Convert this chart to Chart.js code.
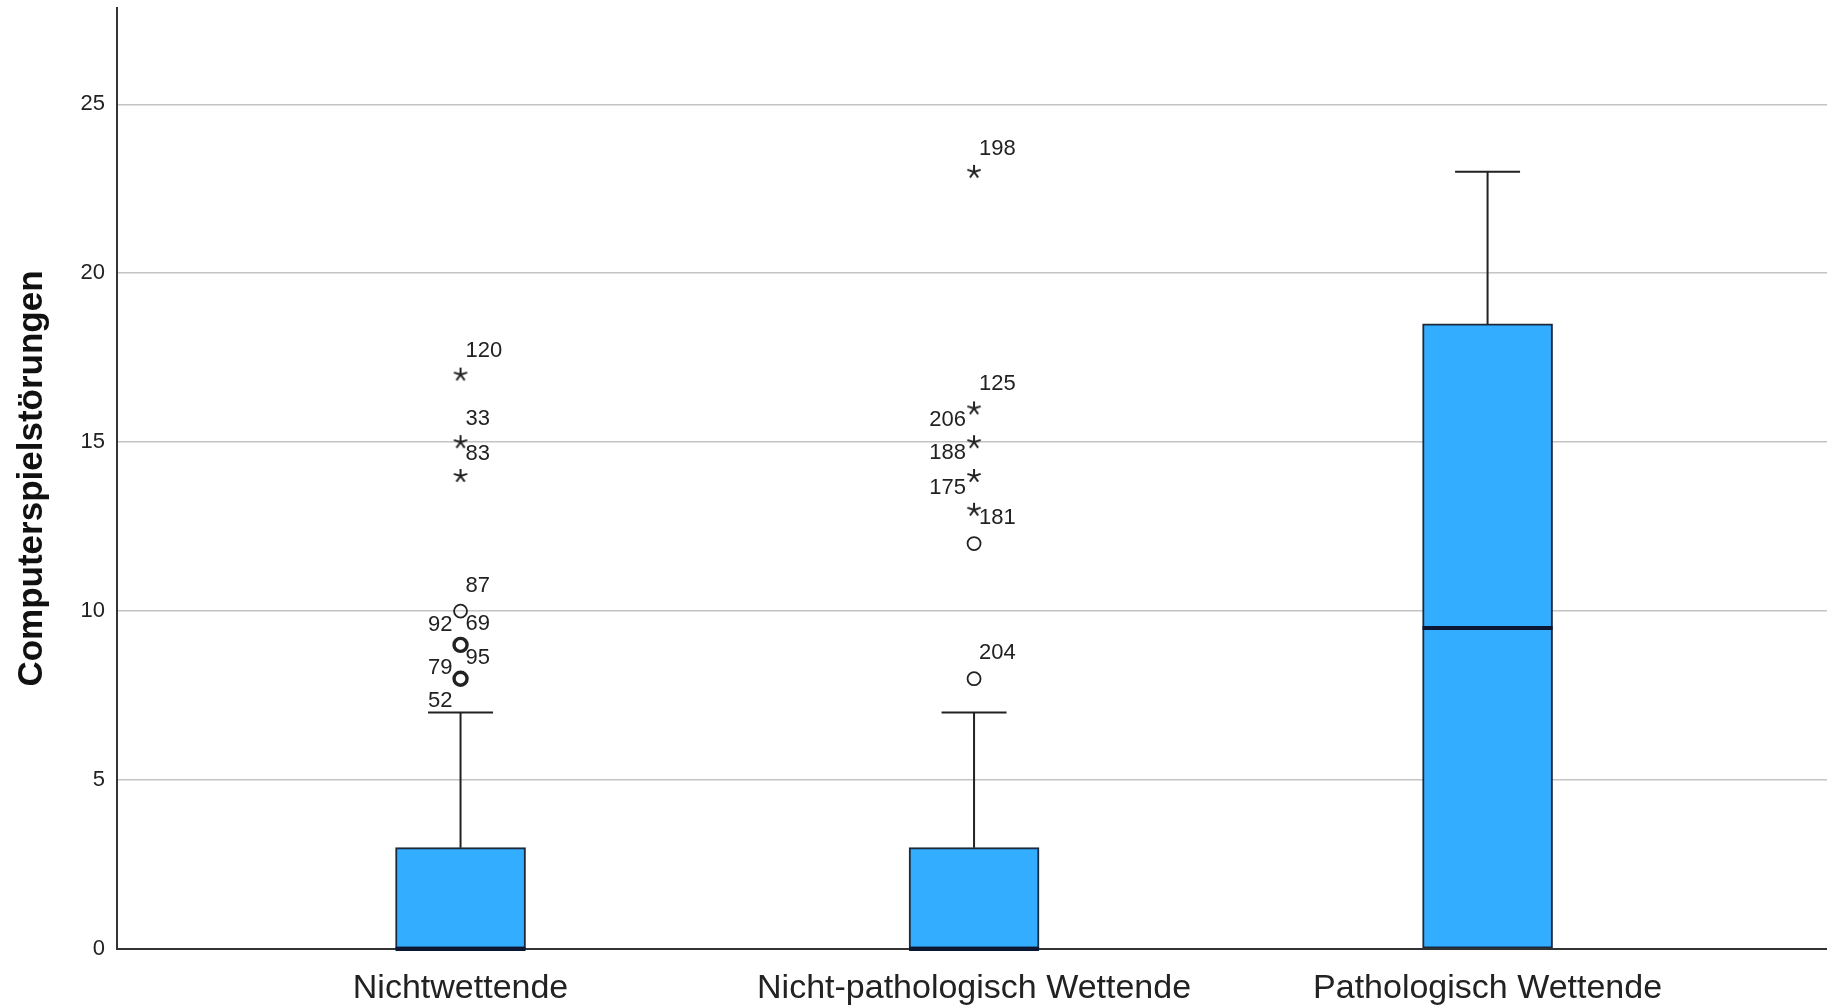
<!DOCTYPE html>
<html>
<head>
<meta charset="utf-8">
<script src="https://cdn.jsdelivr.net/npm/chart.js@4.4.1/dist/chart.umd.min.js"></script>
<style>
  html, body { margin: 0; padding: 0; background: #fff; }
  canvas { display: block; }
</style>
</head>
<body>
<canvas id="boxChart" width="1827" height="1005"></canvas>
<script>
const categories = ['Nichtwettende', 'Nicht-pathologisch Wettende', 'Pathologisch Wettende'];
const whiskerLow = [0, 0, 0];
const quartile1 = [0, 0, 0];
const medians = [0, 0, 9.5];
const quartile3 = [3, 3, 18.5];
const whiskerHigh = [7, 7, 23];
const yTicks = [0, 5, 10, 15, 20, 25];

// outliers as [category index, value]
const mildOutliers = [[0, 8], [0, 9], [0, 10], [1, 8], [1, 12]];
const extremeOutliers = [[0, 14], [0, 15], [0, 17], [1, 13], [1, 14], [1, 15], [1, 16], [1, 23]];

// case numbers as [category index, value, case id]
const caseLabels = [
  [0, 17, '120'], [0, 15, '33'], [0, 14, '83'], [0, 10, '87'],
  [0, 9, '92'], [0, 9, '69'], [0, 8, '95'], [0, 8, '79'], [0, 8, '52'],
  [1, 23, '198'], [1, 16, '125'], [1, 16, '206'], [1, 15, '188'],
  [1, 14, '175'], [1, 13, '181'], [1, 8, '204']
];

// where each case number sits beside its point: side and vertical pixel shift
const labelPlacement = [
  ['r', -24], ['r', -23], ['r', -22], ['r', -25],
  ['l', -20], ['r', -21], ['r', -21], ['l', -11], ['l', 22],
  ['r', -23], ['r', -24], ['l', 12], ['l', 11],
  ['l', 12], ['r', 8], ['r', -26]
];

const FONT = '"Liberation Sans", Arial, sans-serif';

// SPSS style asterisk for extreme values
function makeAsterisk() {
  const c = document.createElement('canvas');
  c.width = 18; c.height = 18;
  const g = c.getContext('2d');
  g.strokeStyle = '#222';
  g.lineWidth = 2;
  for (let k = 0; k < 5; k++) {
    const a = -Math.PI / 2 + k * 2 * Math.PI / 5;
    g.beginPath();
    g.moveTo(9, 9);
    g.lineTo(9 + 7 * Math.cos(a), 9 + 7 * Math.sin(a));
    g.stroke();
  }
  return c;
}

// circles with more than one case are drawn heavier
function casesAt(c, v) {
  return caseLabels.filter(l => l[0] === c && l[1] === v).length;
}

const boxPlotExtras = {
  id: 'boxPlotExtras',
  afterDatasetsDraw(chart) {
    const { ctx, scales: { x, y } } = chart;
    const half = chart.getDatasetMeta(0).data[0].width / 2;
    ctx.save();
    categories.forEach((c, i) => {
      const cx = x.getPixelForValue(i);
      const yHigh = y.getPixelForValue(whiskerHigh[i]);
      ctx.strokeStyle = '#222';
      ctx.lineWidth = 2;
      ctx.beginPath();
      ctx.moveTo(cx, y.getPixelForValue(quartile3[i]));
      ctx.lineTo(cx, yHigh);
      ctx.moveTo(cx - half / 2, yHigh);
      ctx.lineTo(cx + half / 2, yHigh);
      ctx.moveTo(cx, y.getPixelForValue(quartile1[i]));
      ctx.lineTo(cx, y.getPixelForValue(whiskerLow[i]));
      ctx.stroke();

      const ym = y.getPixelForValue(medians[i]);
      ctx.strokeStyle = '#0b1733';
      ctx.lineWidth = 4;
      ctx.beginPath();
      ctx.moveTo(cx - half, ym);
      ctx.lineTo(cx + half, ym);
      ctx.stroke();
    });

    ctx.font = '22px ' + FONT;
    ctx.fillStyle = '#222';
    ctx.textBaseline = 'middle';
    caseLabels.forEach(([c, v, id], k) => {
      const [side, dy] = labelPlacement[k];
      const px = x.getPixelForValue(c);
      const py = y.getPixelForValue(v) + dy;
      ctx.textAlign = side === 'r' ? 'left' : 'right';
      ctx.fillText(id, side === 'r' ? px + 5 : px - 8, py);
    });
    ctx.restore();
  }
};

const ctx = document.getElementById('boxChart').getContext('2d');
new Chart(ctx, {
  type: 'bar',
  data: {
    datasets: [
      {
        type: 'bar',
        data: categories.map((c, i) => ({ x: i, y: [quartile1[i], quartile3[i]] })),
        backgroundColor: '#33adff',
        borderColor: '#1c2a3c',
        borderWidth: 2,
        borderSkipped: false,
        barThickness: 130,
        order: 3
      },
      {
        type: 'scatter',
        data: mildOutliers.map(([c, v]) => ({ x: c, y: v })),
        pointStyle: 'circle',
        pointRadius: 6.5,
        pointBorderColor: '#222',
        pointBackgroundColor: 'rgba(0,0,0,0)',
        pointBorderWidth: p => {
          const [c, v] = mildOutliers[p.dataIndex] || [0, 0];
          return casesAt(c, v) > 1 ? 3.4 : 1.8;
        },
        order: 1
      },
      {
        type: 'scatter',
        data: extremeOutliers.map(([c, v]) => ({ x: c, y: v })),
        pointStyle: makeAsterisk(),
        pointRadius: 8,
        order: 1
      }
    ]
  },
  options: {
    responsive: false,
    animation: false,
    devicePixelRatio: 1,
    events: [],
    layout: { autoPadding: false, padding: { top: 8, right: 0, bottom: 0, left: 0 } },
    plugins: {
      legend: { display: false },
      tooltip: { enabled: false }
    },
    scales: {
      x: {
        type: 'linear',
        offset: false,
        min: -0.669,
        max: 2.661,
        grid: { display: false, drawTicks: false, offset: false },
        border: { display: true, color: '#333', width: 2 },
        afterBuildTicks: s => { s.ticks = categories.map((c, i) => ({ value: i })); },
        ticks: {
          callback: v => categories[v],
          font: { family: FONT, size: 34 },
          color: '#222',
          padding: 19,
          maxRotation: 0,
          autoSkip: false
        },
        afterFit: s => { s.height = 56; s.paddingLeft = 0; s.paddingRight = 0; }
      },
      y: {
        min: 0,
        max: 27.85,
        afterBuildTicks: s => { s.ticks = yTicks.map(v => ({ value: v })); },
        grid: { color: '#c4c4c4', lineWidth: 1.5, drawTicks: false },
        border: { display: true, color: '#333', width: 2 },
        ticks: {
          font: { family: FONT, size: 22 },
          color: '#222',
          padding: 12
        },
        title: {
          display: true,
          text: 'Computerspielstörungen',
          font: { family: FONT, size: 35, weight: 'bold' },
          color: '#111',
          padding: { top: 11, bottom: 0 }
        },
        afterFit: s => { s.width = 117; s.paddingTop = 0; s.paddingBottom = 0; }
      }
    }
  },
  plugins: [boxPlotExtras]
});
</script>
</body>
</html>
